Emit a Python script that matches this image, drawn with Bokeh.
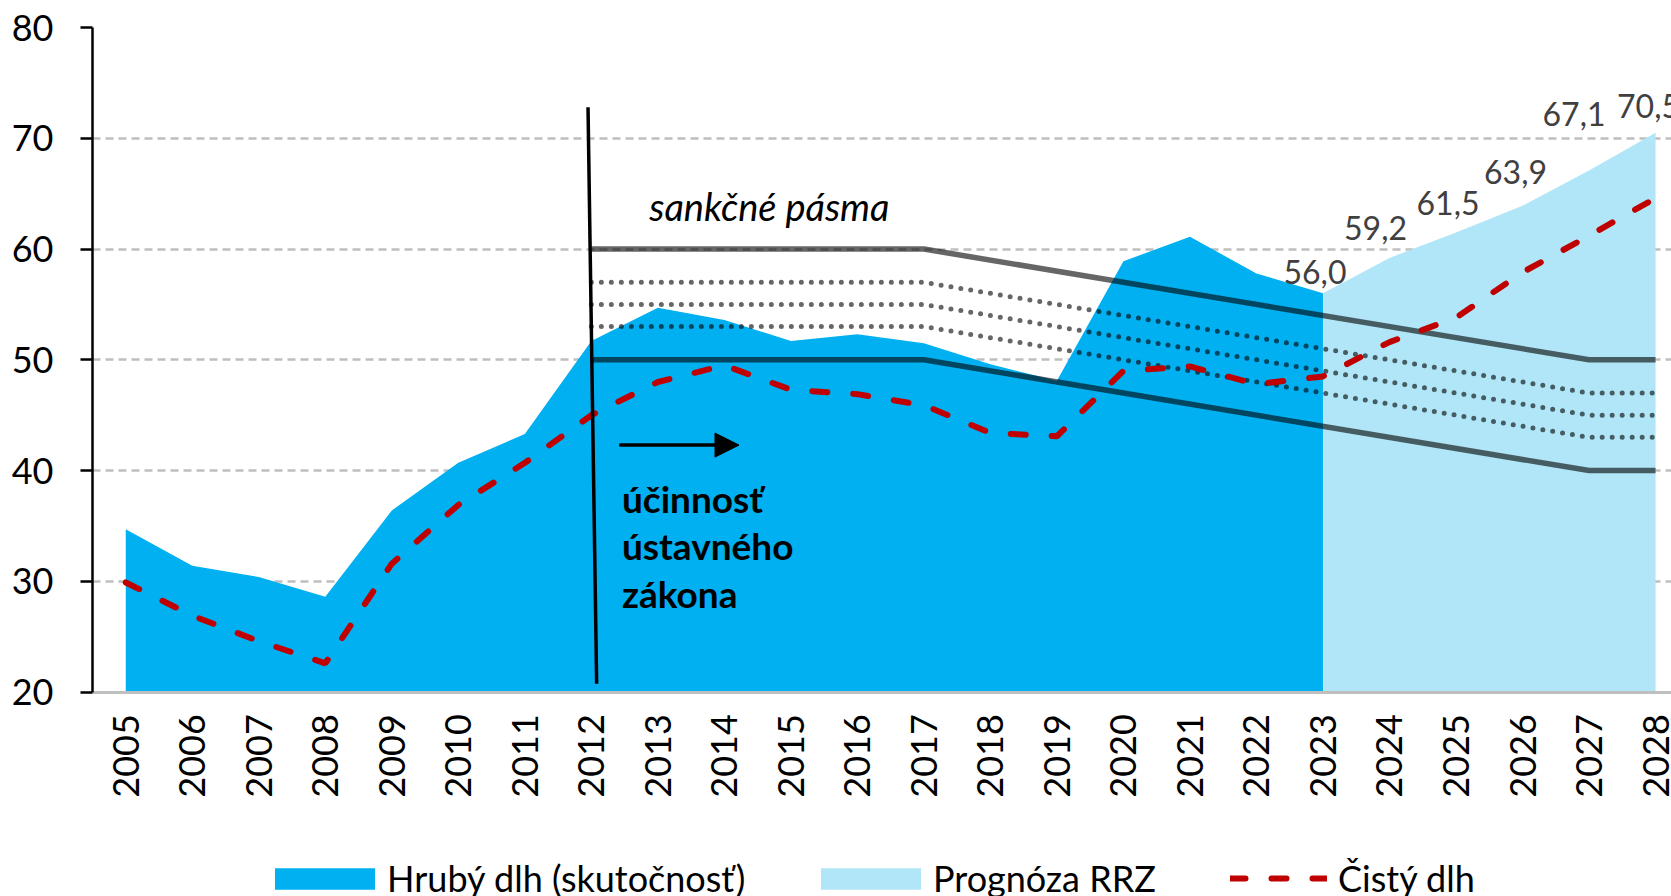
from bokeh.plotting import figure
from bokeh.models import (Range1d, FixedTicker, Legend, LegendItem, Label, Arrow,
                          NormalHead)
from bokeh.embed import file_html
from bokeh.resources import INLINE

# ---------------- data ----------------
years = list(range(2005, 2029))
year_labels = [str(y) for y in years]
y_ticks = [20, 30, 40, 50, 60, 70, 80]

actual_years = list(range(2005, 2024))
gross_debt = [34.7, 31.4, 30.4, 28.6, 36.4, 40.7, 43.3, 51.7, 54.7, 53.6, 51.7, 52.3,
              51.5, 49.6, 48.1, 58.9, 61.1, 57.8, 56.0]

forecast_years = [2023, 2024, 2025, 2026, 2027, 2028]
forecast_debt = [56.0, 59.2, 61.5, 63.9, 67.1, 70.5]

net_debt = [29.9, 26.9, 24.6, 22.6, 31.6, 36.9, 40.7, 45.0, 48.0, 49.5, 47.3, 46.9,
            45.9, 43.4, 43.1, 49.0, 49.4, 47.8, 48.5, 51.6, 53.8, 57.9, 61.2, 64.6]

brake_years = [2012, 2017, 2027, 2028]
band_upper = [60, 60, 50, 50]
band_lower = [50, 50, 40, 40]
band_dot_1 = [57, 57, 47, 47]
band_dot_2 = [55, 55, 45, 45]
band_dot_3 = [53, 53, 43, 43]

legend_labels = ["Hrubý dlh (skutočnosť)", "Prognóza RRZ", "Čistý dlh"]

# label offsets in screen pixels (styling only)
label_dx = [-8, -14, -8, -7, -15, -7]
label_dy = [21, 30, 29, 34, 56, 27]

FONT = "Lato"
BLUE = "#00B0F0"
LIGHT = "#B0E6F7"
RED = "#C00000"

Y_MIN, Y_MAX = 20, 80
# the frame extends below the value axis so that the year labels and legend fit inside it
Y_VIEW_MIN = 1.55

p = figure(width=1671, height=896, output_backend="svg", toolbar_location=None,
           x_range=Range1d(2004.5, 2028.24), y_range=Range1d(Y_VIEW_MIN, Y_MAX),
           min_border_left=92, min_border_right=0, min_border_top=27,
           min_border_bottom=0)
p.outline_line_color = None
p.background_fill_color = "white"

# axes
p.yaxis.ticker = FixedTicker(ticks=y_ticks)
p.yaxis.bounds = (Y_MIN, Y_MAX)
p.yaxis.axis_line_color = "black"
p.yaxis.axis_line_width = 2.5
p.yaxis.major_tick_line_color = "black"
p.yaxis.major_tick_line_width = 2.5
p.yaxis.major_tick_out = 12
p.yaxis.major_tick_in = 0
p.yaxis.minor_tick_line_color = None
p.yaxis.major_label_standoff = 27
p.yaxis.major_label_text_font = FONT
p.yaxis.major_label_text_font_size = "36px"
p.yaxis.major_label_text_color = "black"

p.xaxis.fixed_location = Y_MIN
p.xaxis.ticker = FixedTicker(ticks=years)
p.xaxis.major_label_overrides = {y: s for y, s in zip(years, year_labels)}
p.xaxis.major_label_orientation = 3.14159265 / 2
p.xaxis.axis_line_color = "#BFBFBF"
p.xaxis.axis_line_width = 3
p.xaxis.major_tick_line_color = None
p.xaxis.minor_tick_line_color = None
p.xaxis.major_label_standoff = 16
p.xaxis.major_label_text_font = FONT
p.xaxis.major_label_text_font_size = "36px"
p.xaxis.major_label_text_color = "black"

p.xgrid.grid_line_color = None
p.ygrid.ticker = FixedTicker(ticks=y_ticks[1:])
p.ygrid.grid_line_color = "#BFBFBF"
p.ygrid.grid_line_width = 2.5
p.ygrid.grid_line_dash = "8 5"

# areas
r_gross = p.varea(x=actual_years, y1=[Y_MIN] * len(actual_years), y2=gross_debt,
                  fill_color=BLUE)
r_fc = p.varea(x=forecast_years, y1=[Y_MIN] * len(forecast_years), y2=forecast_debt,
               fill_color=LIGHT)

# sanction bands
for ys in (band_upper, band_lower):
    p.line(brake_years, ys, line_color="black", line_alpha=0.6, line_width=5.5)
for ys in (band_dot_1, band_dot_2, band_dot_3):
    p.line(brake_years, ys, line_color="black", line_alpha=0.6, line_width=5,
           line_dash="0 10", line_cap="round")

# net debt
r_net = p.line(years, net_debt, line_color=RED, line_width=6,
               line_dash="15 26", line_cap="round")

# vertical line for constitutional law
p.segment(x0=[2011.95], y0=[72.8], x1=[2012.08], y1=[20.75],
          line_color="black", line_width=3.5)

# arrow
p.add_layout(Arrow(end=NormalHead(size=24, fill_color="black", line_color="black"),
                   x_start=2012.42, y_start=42.3, x_end=2014.22, y_end=42.3,
                   line_color="black", line_width=3.5))

# texts
p.add_layout(Label(x=2012.87, y=63.9, text="sankčné pásma", text_font=FONT,
                   text_font_size="38px", text_font_style="italic",
                   text_baseline="middle", text_color="black"))
for txt, yy in zip(["účinnosť", "ústavného", "zákona"], [37.5, 33.2, 28.9]):
    p.add_layout(Label(x=2012.46, y=yy, text=txt, text_font=FONT,
                       text_font_size="37px", text_font_style="bold",
                       text_baseline="middle", text_color="black"))

# data labels on forecast
for xv, v, dx, dy in zip(forecast_years, forecast_debt, label_dx, label_dy):
    p.add_layout(Label(x=xv, y=v, x_offset=dx, y_offset=dy,
                       text=f"{v:.1f}".replace(".", ","), text_font=FONT,
                       text_font_size="32px", text_color="#404040",
                       text_align="center", text_baseline="middle"))

# legend: one entry per legend box so each can be placed like the reference
legend_specs = [
    (legend_labels[0], r_gross, 170, 125, 27, 0),
    (legend_labels[1], r_fc, 716, 125, 27, 0),
    (legend_labels[2], r_net, 1138, 97, 22, 11),
]
for lab, rend, lx, gw, gh, st in legend_specs:
    lg = Legend(items=[LegendItem(label=lab, renderers=[rend])],
                orientation="horizontal", location=(lx, -4),
                label_text_font=FONT, label_text_font_size="36px",
                label_text_color="black",
                glyph_width=gw, glyph_height=gh, label_standoff=st,
                spacing=0, padding=0, margin=0,
                border_line_alpha=0, background_fill_alpha=0)
    p.add_layout(lg, "center")

open("out.html", "w").write(file_html(p, INLINE))
